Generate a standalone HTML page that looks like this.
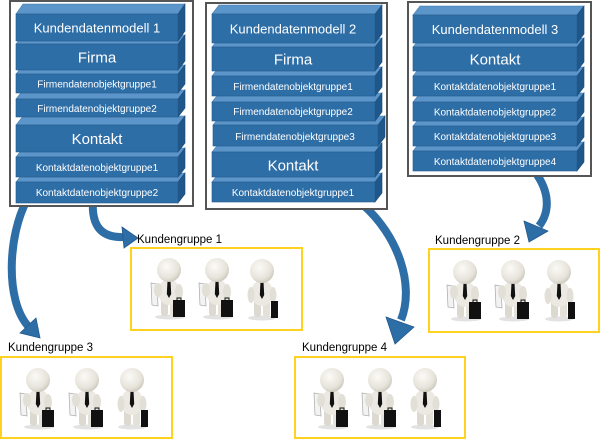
<!DOCTYPE html>
<html><head><meta charset="utf-8"><style>
html,body{margin:0;padding:0;background:#fff;}
svg{display:block;}
text{font-family:"Liberation Sans",Arial,sans-serif;}
.t{fill:#fff;text-anchor:middle;}
.l{fill:#000;font-size:11.5px;}
.fr{fill:#2e6ea7;stroke:#24598a;stroke-width:0.6;}
.tp{fill:#5c95c9;stroke:#3f78ad;stroke-width:0.6;}
.sd{fill:#20578b;stroke:#1a4a77;stroke-width:0.6;}
.ob{fill:#fff;stroke:#555;stroke-width:2;}
.yb{fill:#fff;stroke:#ffd21f;stroke-width:2;}
.ar{fill:none;stroke:#2e6ea7;stroke-width:8;}
.ah{fill:#2e6ea7;stroke:#23588a;stroke-width:0.8;}
</style></head><body>
<svg width="600" height="440" viewBox="0 0 600 440" xmlns="http://www.w3.org/2000/svg">
<defs>
<radialGradient id="hg" cx="0.4" cy="0.35" r="0.7">
<stop offset="0" stop-color="#fbfaf6"/><stop offset="0.7" stop-color="#e6e3da"/><stop offset="1" stop-color="#c9c5ba"/>
</radialGradient>
<g id="f1">
<ellipse cx="1" cy="47" rx="15" ry="2.5" fill="#e2e2e2"/>
<path d="M-18,13 L-12,14 L-11,36 L-17,35 Z" fill="#f3f3f3" stroke="#a8a8a8" stroke-width="0.7"/>
<rect x="-8" y="27" width="7" height="19" rx="3" fill="#dcd9d0"/>
<rect x="1" y="27" width="7" height="19" rx="3" fill="#e4e1d9"/>
<ellipse cx="0" cy="22" rx="11" ry="13" fill="#ebe9e2"/>
<ellipse cx="-11" cy="20" rx="4" ry="7" fill="#e2dfd7"/>
<ellipse cx="10" cy="22" rx="4" ry="8" fill="#e2dfd7"/>
<path d="M-1.5,11 L1.5,11 L2.2,24 L0,28 L-2.2,24 Z" fill="#111"/>
<circle r="12" fill="url(#hg)"/>
<rect x="4" y="30" width="12" height="17" fill="#111"/>
<rect x="8" y="28" width="4" height="3" fill="none" stroke="#111" stroke-width="1"/>
</g>
<g id="f3">
<ellipse cx="0" cy="47" rx="14" ry="2.5" fill="#e2e2e2"/>
<rect x="-8" y="27" width="7" height="19" rx="3" fill="#dcd9d0"/>
<rect x="1" y="27" width="7" height="19" rx="3" fill="#e4e1d9"/>
<ellipse cx="0" cy="22" rx="11" ry="13" fill="#ebe9e2"/>
<ellipse cx="-11" cy="24" rx="3.5" ry="8" fill="#e2dfd7"/>
<ellipse cx="11" cy="24" rx="3.5" ry="8" fill="#e2dfd7"/>
<path d="M-1.5,11 L1.5,11 L2.2,24 L0,28 L-2.2,24 Z" fill="#111"/>
<circle r="12" fill="url(#hg)"/>
<rect x="9" y="30" width="7" height="17" fill="#111"/>
</g>
</defs>

<!-- arrows -->
<path class="ar" d="M27 200 C 8 235, 5 300, 28 326"/>
<polygon class="ah" points="36,318 20,333 40,338"/>
<path class="ar" d="M93 200 C 91 228, 103 238, 124 237"/>
<polygon class="ah" points="122,227 138,238 124,248"/>
<path class="ar" d="M362 204 C 398 235, 415 285, 401 320"/>
<polygon class="ah" points="386,317 414,327 395,344"/>
<path class="ar" d="M535 172 C 550 192, 550 212, 539 226"/>
<polygon class="ah" points="524,221 548,231 529,242"/>

<!-- Box 1 -->
<rect class="ob" x="10" y="1" width="183" height="205"/>
<g>
<polygon class="tp" points="16,182 23,173 185,173 178,182"/><polygon class="sd" points="178,182 185,173 185,194 178,203"/><rect class="fr" x="16" y="182" width="162" height="21"/>
<text class="t" x="97" y="196" font-size="10">Kontaktdatenobjektgruppe2</text>
<polygon class="tp" points="16,157 23,148 185,148 178,157"/><polygon class="sd" points="178,157 185,148 185,168 178,177"/><rect class="fr" x="16" y="157" width="162" height="20"/>
<text class="t" x="97" y="171" font-size="10">Kontaktdatenobjektgruppe1</text>
<polygon class="tp" points="16,125 23,116 185,116 178,125"/><polygon class="sd" points="178,125 185,116 185,143 178,152"/><rect class="fr" x="16" y="125" width="162" height="27"/>
<text class="t" x="97" y="144" font-size="15">Kontakt</text>
<polygon class="tp" points="16,99 23,90 185,90 178,99"/><polygon class="sd" points="178,99 185,90 185,108 178,117"/><rect class="fr" x="16" y="99" width="162" height="18"/>
<text class="t" x="97" y="112" font-size="10">Firmendatenobjektgruppe2</text>
<polygon class="tp" points="16,74 23,65 185,65 178,74"/><polygon class="sd" points="178,74 185,65 185,84 178,93"/><rect class="fr" x="16" y="74" width="162" height="19"/>
<text class="t" x="97" y="87.5" font-size="10">Firmendatenobjektgruppe1</text>
<polygon class="tp" points="16,44 23,35 185,35 178,44"/><polygon class="sd" points="178,44 185,35 185,61 178,70"/><rect class="fr" x="16" y="44" width="162" height="26"/>
<text class="t" x="97" y="62.5" font-size="15">Firma</text>
<polygon class="tp" points="16,14 23,4 185,4 178,14"/><polygon class="sd" points="178,14 185,4 185,31 178,41"/><rect class="fr" x="16" y="14" width="162" height="27"/>
<text class="t" x="97" y="32.5" font-size="13">Kundendatenmodell 1</text>
</g>

<!-- Box 2 -->
<rect class="ob" x="206" y="3" width="181" height="206"/>
<g>
<polygon class="tp" points="212,182 219,173 382,173 375,182"/><polygon class="sd" points="375,182 382,173 382,193 375,202"/><rect class="fr" x="212" y="182" width="163" height="20"/>
<text class="t" x="293" y="196" font-size="10">Kontaktdatenobjektgruppe1</text>
<polygon class="tp" points="212,152 219,143 382,143 375,152"/><polygon class="sd" points="375,152 382,143 382,168 375,177"/><rect class="fr" x="212" y="152" width="163" height="25"/>
<text class="t" x="293" y="170.5" font-size="15">Kontakt</text>
<polygon class="tp" points="213,125 220,116 385,116 378,125"/><polygon class="sd" points="378,125 385,116 385,137 378,146"/><rect class="fr" x="213" y="125" width="165" height="21"/>
<text class="t" x="295" y="140" font-size="10">Firmendatenobjektgruppe3</text>
<polygon class="tp" points="212,102 219,93 382,93 375,102"/><polygon class="sd" points="375,102 382,93 382,112 375,121"/><rect class="fr" x="212" y="102" width="163" height="19"/>
<text class="t" x="293" y="115" font-size="10">Firmendatenobjektgruppe2</text>
<polygon class="tp" points="212,76 219,67 382,67 375,76"/><polygon class="sd" points="375,76 382,67 382,87 375,96"/><rect class="fr" x="212" y="76" width="163" height="20"/>
<text class="t" x="293" y="90" font-size="10">Firmendatenobjektgruppe1</text>
<polygon class="tp" points="212,47 219,38 382,38 375,47"/><polygon class="sd" points="375,47 382,38 382,62 375,71"/><rect class="fr" x="212" y="47" width="163" height="24"/>
<text class="t" x="293" y="64.5" font-size="15">Firma</text>
<polygon class="tp" points="212,14 219,5 382,5 375,14"/><polygon class="sd" points="375,14 382,5 382,34 375,43"/><rect class="fr" x="212" y="14" width="163" height="29"/>
<text class="t" x="293" y="33.5" font-size="13">Kundendatenmodell 2</text>
</g>

<!-- Box 3 -->
<rect class="ob" x="408" y="2" width="183" height="174"/>
<g>
<polygon class="tp" points="413,151 420,142 584,142 577,151"/><polygon class="sd" points="577,151 584,142 584,162 577,171"/><rect class="fr" x="413" y="151" width="164" height="20"/>
<text class="t" x="495" y="165" font-size="10">Kontaktdatenobjektgruppe4</text>
<polygon class="tp" points="413,126 420,117 584,117 577,126"/><polygon class="sd" points="577,126 584,117 584,137 577,146"/><rect class="fr" x="413" y="126" width="164" height="20"/>
<text class="t" x="495" y="140" font-size="10">Kontaktdatenobjektgruppe3</text>
<polygon class="tp" points="413,102 420,93 584,93 577,102"/><polygon class="sd" points="577,102 584,93 584,112 577,121"/><rect class="fr" x="413" y="102" width="164" height="19"/>
<text class="t" x="495" y="115.5" font-size="10">Kontaktdatenobjektgruppe2</text>
<polygon class="tp" points="413,76 420,67 584,67 577,76"/><polygon class="sd" points="577,76 584,67 584,87 577,96"/><rect class="fr" x="413" y="76" width="164" height="20"/>
<text class="t" x="495" y="90" font-size="10">Kontaktdatenobjektgruppe1</text>
<polygon class="tp" points="413,47 420,38 584,38 577,47"/><polygon class="sd" points="577,47 584,38 584,62 577,71"/><rect class="fr" x="413" y="47" width="164" height="24"/>
<text class="t" x="495" y="64.5" font-size="15">Kontakt</text>
<polygon class="tp" points="413,15 420,6 584,6 577,15"/><polygon class="sd" points="577,15 584,6 584,34 577,43"/><rect class="fr" x="413" y="15" width="164" height="28"/>
<text class="t" x="495" y="34" font-size="13">Kundendatenmodell 3</text>
</g>

<!-- Kundengruppe 1 -->
<text class="l" x="137" y="243">Kundengruppe 1</text>
<rect class="yb" x="131" y="248" width="171" height="82"/>
<use href="#f1" x="169" y="270"/>
<use href="#f1" x="217" y="270"/>
<use href="#f3" x="262" y="271"/>

<!-- Kundengruppe 2 -->
<text class="l" x="435" y="244">Kundengruppe 2</text>
<rect class="yb" x="429" y="249" width="170" height="83"/>
<use href="#f1" x="465" y="272"/>
<use href="#f1" x="513" y="272"/>
<use href="#f3" x="559" y="272"/>

<!-- Kundengruppe 3 -->
<text class="l" x="8" y="351">Kundengruppe 3</text>
<rect class="yb" x="1" y="357" width="171" height="81"/>
<use href="#f1" x="38" y="380"/>
<use href="#f1" x="87" y="380"/>
<use href="#f3" x="132" y="380"/>

<!-- Kundengruppe 4 -->
<text class="l" x="302" y="351">Kundengruppe 4</text>
<rect class="yb" x="295" y="357" width="170" height="81"/>
<use href="#f1" x="332" y="380"/>
<use href="#f1" x="380" y="380"/>
<use href="#f3" x="425" y="380"/>
</svg>
</body></html>
